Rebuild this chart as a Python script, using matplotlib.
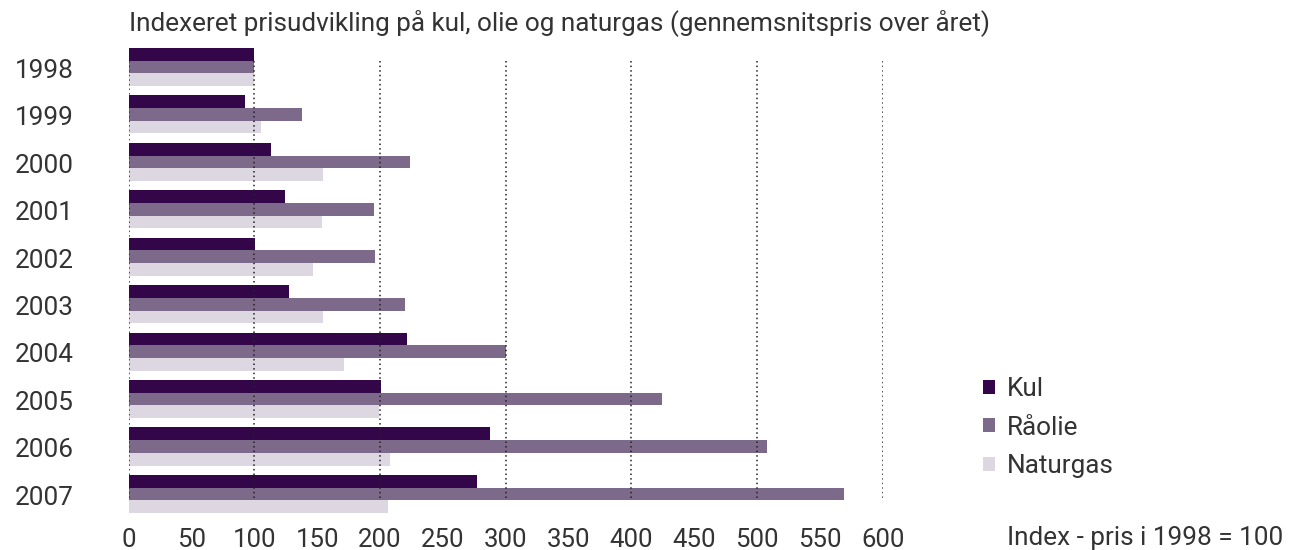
import matplotlib
matplotlib.use("Agg")
import matplotlib.pyplot as plt
import matplotlib.transforms as mtransforms
from matplotlib.patches import Patch
import numpy as np

plt.rcParams["font.family"] = ["Roboto", "DejaVu Sans"]

# ── data (index, 1998 = 100) ─────────────────────────────────────
years = ["1998", "1999", "2000", "2001", "2002", "2003", "2004", "2005", "2006", "2007"]
kul = [100, 92.6, 113.3, 124.5, 100.6, 127.6, 221.5, 200.8, 287.6, 277.3]
raolie = [100, 138, 223.9, 195.3, 196.1, 219.9, 300.3, 424.4, 508, 569.3]
naturgas = [100, 105.4, 154.7, 153.9, 146.7, 154.7, 171.4, 199.2, 208, 206.4]
series_names = ["Kul", "Råolie", "Naturgas"]
colors = ["#33064a", "#7d6a8b", "#ddd7e2"]
xticks = [0, 50, 100, 150, 200, 250, 300, 350, 400, 450, 500, 550, 600]
gridlines = [0, 100, 200, 300, 400, 500, 600]

TEXT = "#333333"

W, H = 1291, 550
fig = plt.figure(figsize=(W / 100, H / 100), dpi=100)

# axes placed so 0..600 spans px 128.6..882.6, group step ~47.4 px
step = 47.44
y_top_px, y_bot_px = 40, 522
first_center = 67
ax = fig.add_axes([128.6 / W, 1 - y_bot_px / H, 754 / W, (y_bot_px - y_top_px) / H])
ax.set_xlim(0, 600)
ax.set_ylim((y_bot_px - first_center) / step, (y_top_px - first_center) / step)

pos = np.arange(len(years))
h = 12.7 / step
for vals, off, col in zip([kul, raolie, naturgas], [-h, 0, h], colors):
    ax.barh(pos + off, vals, height=h, color=col, linewidth=0, zorder=1)

# dotted gridlines span the middle (Råolie) bars only
ax.vlines(gridlines, -h / 2, len(years) - 1 + h / 2, colors="#222222",
          linestyles=(0, (1, 2)), linewidth=1.1, zorder=2)

for s in ax.spines.values():
    s.set_visible(False)
ax.set_yticks([])
ax.set_xticks(xticks)
ax.set_xticklabels([str(t) for t in xticks], fontsize=18.5, color=TEXT)
ax.tick_params(axis="x", length=0, pad=4)

# year labels on the left
trans = mtransforms.blended_transform_factory(fig.transFigure, ax.transData)
for i, yr in enumerate(years):
    ax.text(15 / W, i + 0.08, yr, transform=trans, ha="left", va="center",
            fontsize=18.8, color=TEXT)

fig.text(129 / W, 1 - 23 / H, "Indexeret prisudvikling på kul, olie og naturgas (gennemsnitspris over året)",
         ha="left", va="center", fontsize=18.8, color=TEXT)
fig.text(1007 / W, 1 - 538 / H, "Index - pris i 1998 = 100", ha="left", va="center",
         fontsize=18.8, color=TEXT)

handles = [Patch(facecolor=c, edgecolor="none") for c in colors]
fig.legend(handles, series_names, loc="upper left", bbox_to_anchor=(983 / W, 1 - 377 / H),
           frameon=False, fontsize=18.8, handlelength=0.45, handleheight=0.45,
           handletextpad=0.45, labelspacing=0.56, borderpad=0, borderaxespad=0,
           labelcolor=TEXT)

fig.savefig("out.png", dpi=100)
